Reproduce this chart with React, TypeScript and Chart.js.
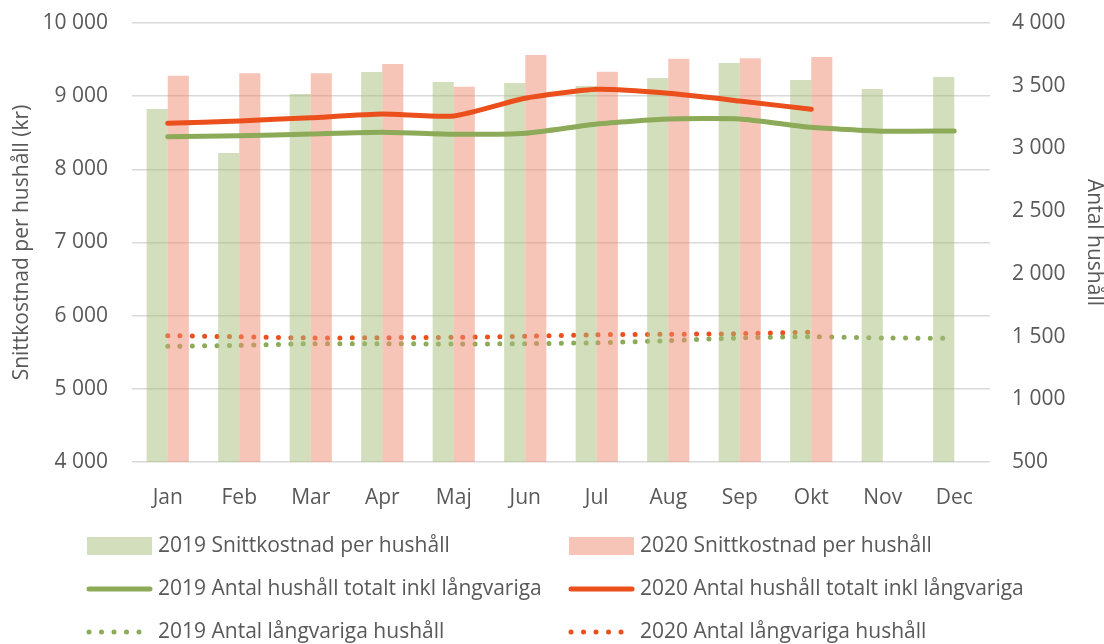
import React, { useEffect, useRef } from "react";
import { Chart, registerables } from "chart.js";

Chart.register(...registerables);

const months = ["Jan", "Feb", "Mar", "Apr", "Maj", "Jun", "Jul", "Aug", "Sep", "Okt", "Nov", "Dec"];
const cost2019 = [8825, 8223, 9030, 9330, 9194, 9180, 9139, 9248, 9453, 9221, 9098, 9262];
const cost2020 = [9280, 9312, 9312, 9440, 9130, 9563, 9335, 9512, 9517, 9535, null, null];
const total2019 = [3094, 3101, 3115, 3129, 3113, 3121, 3195, 3235, 3235, 3168, 3137, 3139];
const total2020 = [3200, 3219, 3245, 3274, 3259, 3400, 3471, 3439, 3378, 3312, null, null];
const long2019 = [1422, 1430, 1443, 1443, 1441, 1443, 1451, 1467, 1489, 1499, 1489, 1486];
const long2020 = [1507, 1499, 1489, 1491, 1494, 1502, 1515, 1518, 1523, 1536, null, null];

const seriesNames = [
  "2019 Snittkostnad per hushåll",
  "2020 Snittkostnad per hushåll",
  "2019 Antal hushåll totalt inkl långvariga",
  "2020 Antal hushåll totalt inkl långvariga",
  "2019 Antal långvariga hushåll",
  "2020 Antal långvariga hushåll",
];

const GREEN_BAR = "rgba(167,190,124,0.5)";
const RED_BAR = "rgba(240,140,112,0.5)";
const GREEN_LINE = "#8caa58";
const RED_LINE = "#ea4f1c";
const TEXT = "#595959";
const FONT = "'Open Sans', 'Liberation Sans', sans-serif";
const FS = 21;

const fmt = (v: number) => String(v).replace(/\B(?=(\d{3})+(?!\d))/g, " ");

const legendPlugin = {
  id: "customLegend",
  afterDraw(chart: any) {
    const ctx = chart.ctx;
    const ds = chart.data.datasets;
    const cols = [87, 569];
    const rows = [546, 589, 632];
    ctx.save();
    ctx.font = `${FS}px ${FONT}`;
    ctx.fillStyle = TEXT;
    ctx.textBaseline = "middle";
    ds.forEach((d: any, i: number) => {
      const col = cols[i % 2];
      const row = rows[Math.floor(i / 2)];
      const kind = Math.floor(i / 2);
      if (kind === 0) {
        ctx.fillStyle = d.backgroundColor;
        ctx.fillRect(col, row - 9, 65, 18);
      } else if (kind === 1) {
        ctx.strokeStyle = d.borderColor;
        ctx.lineWidth = 5;
        ctx.lineCap = "round";
        ctx.beginPath();
        ctx.moveTo(col + 2, row);
        ctx.lineTo(col + 63, row);
        ctx.stroke();
      } else {
        ctx.fillStyle = d.borderColor;
        for (let k = 0; k < 5; k++) {
          ctx.beginPath();
          ctx.arc(col + 2 + k * 12.5, row, 2.5, 0, Math.PI * 2);
          ctx.fill();
        }
      }
      ctx.fillStyle = TEXT;
      ctx.fillText(d.label, col + 71, row);
    });
    ctx.restore();
  },
};

export default function App() {
  const ref = useRef<HTMLCanvasElement | null>(null);
  useEffect(() => {
    if (!ref.current) return;
    const lineBase = {
      type: "line",
      borderWidth: 5,
      borderCapStyle: "round",
      borderJoinStyle: "round",
      pointRadius: 0,
      tension: 0.18,
      yAxisID: "y1",
    };
    const chart = new Chart(ref.current, {
      type: "bar",
      data: {
        labels: months,
        datasets: [
          {
            type: "bar",
            label: seriesNames[0],
            data: cost2019,
            backgroundColor: GREEN_BAR,
            yAxisID: "y",
            order: 2,
            categoryPercentage: 0.59,
            barPercentage: 1,
          },
          {
            type: "bar",
            label: seriesNames[1],
            data: cost2020,
            backgroundColor: RED_BAR,
            yAxisID: "y",
            order: 2,
            categoryPercentage: 0.59,
            barPercentage: 1,
          },
          { ...lineBase, label: seriesNames[2], data: total2019, borderColor: GREEN_LINE, backgroundColor: GREEN_LINE, order: 0 },
          { ...lineBase, label: seriesNames[3], data: total2020, borderColor: RED_LINE, backgroundColor: RED_LINE, order: 0 },
          { ...lineBase, label: seriesNames[4], data: long2019, borderColor: GREEN_LINE, backgroundColor: GREEN_LINE, borderDash: [0, 12.3], order: 3 },
          { ...lineBase, label: seriesNames[5], data: long2020, borderColor: RED_LINE, backgroundColor: RED_LINE, borderDash: [0, 12.3], order: 3 },
        ],
      } as any,
      options: {
        animation: false,
        responsive: false,
        layout: { padding: { top: 23, left: 0, right: 0, bottom: 0 } },
        plugins: { legend: { display: false }, tooltip: { enabled: false } },
        scales: {
          x: {
            grid: { display: false, drawTicks: false },
            border: { display: false },
            ticks: { color: TEXT, font: { family: FONT, size: FS }, padding: 23 },
            afterFit: (s: any) => {
              s.height = 182;
              s.paddingLeft = 0;
              s.paddingRight = 0;
            },
          },
          y: {
            position: "left",
            min: 4000,
            max: 10000,
            grid: { color: "#d9d9d9", lineWidth: 1.5, drawTicks: false },
            border: { display: false },
            ticks: {
              stepSize: 1000,
              color: TEXT,
              font: { family: FONT, size: FS },
              padding: 24,
              callback: (v: any) => fmt(Number(v)),
            },
            title: {
              display: true,
              text: "Snittkostnad per hushåll (kr)",
              color: TEXT,
              font: { family: FONT, size: 21, lineHeight: 1 },
              padding: { top: 12, bottom: 0 },
            },
            afterFit: (s: any) => {
              s.width = 132;
              s.paddingTop = 0;
              s.paddingBottom = 0;
            },
          },
          y1: {
            position: "right",
            min: 500,
            max: 4000,
            grid: { display: false, drawTicks: false },
            border: { display: false },
            ticks: {
              stepSize: 500,
              color: TEXT,
              font: { family: FONT, size: FS },
              padding: 22,
              callback: (v: any) => fmt(Number(v)),
            },
            title: {
              display: true,
              text: "Antal hushåll",
              color: TEXT,
              font: { family: FONT, size: 21, lineHeight: 1 },
              padding: { top: 0, bottom: 0 },
            },
            afterFit: (s: any) => {
              s.width = 114;
              s.paddingTop = 0;
              s.paddingBottom = 0;
            },
          },
        },
      } as any,
      plugins: [legendPlugin],
    });
    return () => chart.destroy();
  }, []);
  return (
    <div style={{ position: "fixed", left: 0, top: 0, width: 1104, height: 644, background: "#fff" }}>
      <canvas ref={ref} width={1104} height={644} style={{ width: 1104, height: 644 }} />
    </div>
  );
}
